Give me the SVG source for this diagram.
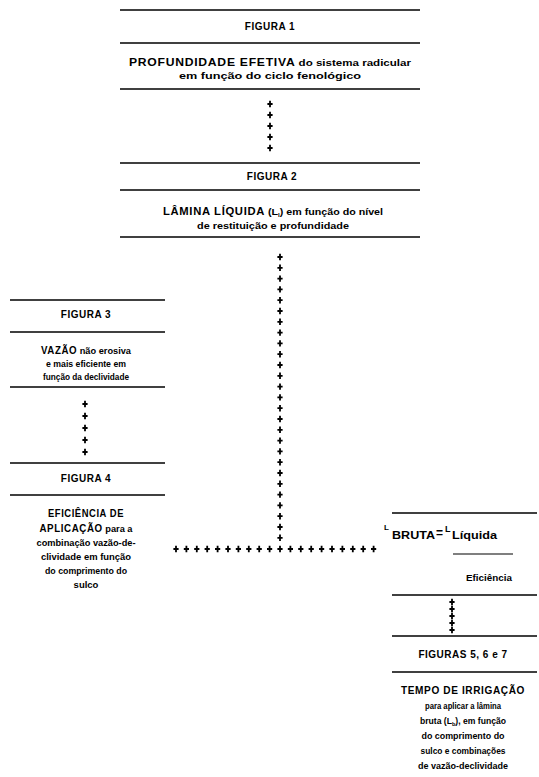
<svg xmlns="http://www.w3.org/2000/svg" xmlns:xlink="http://www.w3.org/1999/xlink" width="539" height="777" viewBox="0 0 539 777">
<style>
text{font-family:"Liberation Sans",Arial,sans-serif;font-weight:bold;fill:#000;text-anchor:middle}
.h{font-size:10px;letter-spacing:0.5px}
.t{font-size:9.5px}
.u{font-size:10px;letter-spacing:0.6px}
.s{font-size:5.5px;baseline-shift:-1.5px}
.r{stroke:#000;stroke-width:1.6;fill:none}
</style>
<defs>
<path id="c" d="M-2.6 0H2.6M0 -3.2V3.2" stroke="#000" stroke-width="1.8"/>
</defs>
<rect width="539" height="777" fill="#fff"/>
<g id="fig1">
<line class="r" x1="120" y1="10" x2="420" y2="10"/>
<text class="h" x="270" y="30">FIGURA 1</text>
<line class="r" x1="120" y1="43" x2="420" y2="43"/>
<text class="t" x="270" y="66" textLength="282" lengthAdjust="spacingAndGlyphs"><tspan class="u">PROFUNDIDADE EFETIVA</tspan> do sistema radicular</text>
<text class="t" x="270" y="79" textLength="182" lengthAdjust="spacingAndGlyphs">em função do ciclo fenológico</text>
<line class="r" x1="120" y1="89" x2="420" y2="89"/>
</g>
<g id="fig2">
<line class="r" x1="120" y1="163" x2="420" y2="163"/>
<text class="h" x="272" y="180">FIGURA 2</text>
<line class="r" x1="120" y1="190" x2="420" y2="190"/>
<text class="t" x="273" y="215" textLength="220" lengthAdjust="spacingAndGlyphs"><tspan class="u">LÂMINA LÍQUIDA</tspan> (L<tspan class="s">l</tspan>) em função do nível</text>
<text class="t" x="273" y="229" textLength="152" lengthAdjust="spacingAndGlyphs">de restituição e profundidade</text>
<line class="r" x1="120" y1="237" x2="420" y2="237"/>
</g>
<g id="fig3">
<line class="r" x1="10" y1="300" x2="165" y2="300"/>
<text class="h" x="86" y="318">FIGURA 3</text>
<line class="r" x1="10" y1="332" x2="165" y2="332"/>
<text class="t" x="86" y="354" textLength="90" lengthAdjust="spacingAndGlyphs"><tspan class="u">VAZÃO</tspan> não erosiva</text>
<text class="t" x="86" y="367" textLength="80" lengthAdjust="spacingAndGlyphs">e mais eficiente em</text>
<text class="t" x="86" y="380" textLength="86" lengthAdjust="spacingAndGlyphs">função da declividade</text>
<line class="r" x1="10" y1="387" x2="165" y2="387"/>
</g>
<g id="fig4">
<line class="r" x1="10" y1="463" x2="165" y2="463"/>
<text class="h" x="86" y="482">FIGURA 4</text>
<line class="r" x1="10" y1="495" x2="165" y2="495"/>
<text class="t" x="86" y="517" textLength="76" lengthAdjust="spacingAndGlyphs"><tspan class="u">EFICIÊNCIA DE</tspan></text>
<text class="t" x="86" y="531.5" textLength="93" lengthAdjust="spacingAndGlyphs"><tspan class="u">APLICAÇÃO</tspan> para a</text>
<text class="t" x="86" y="546" textLength="99" lengthAdjust="spacingAndGlyphs">combinação vazão-de-</text>
<text class="t" x="86" y="560" textLength="90" lengthAdjust="spacingAndGlyphs">clividade em função</text>
<text class="t" x="86" y="574" textLength="82" lengthAdjust="spacingAndGlyphs">do comprimento do</text>
<text class="t" x="86" y="588">sulco</text>
</g>
<g id="formula">
<line class="r" x1="392" y1="513" x2="537" y2="513"/>
<text x="384" y="530" style="text-anchor:start;font-size:8px">L</text>
<text x="392" y="539" style="text-anchor:start;font-size:10px" textLength="43" lengthAdjust="spacingAndGlyphs">BRUTA</text>
<text x="436" y="537" style="text-anchor:start;font-size:12px">=</text>
<text x="445" y="532" style="text-anchor:start;font-size:9px">L</text>
<text x="452" y="539" style="text-anchor:start;font-size:10px" textLength="45" lengthAdjust="spacingAndGlyphs">Líquida</text>
<line stroke="#000" stroke-width="1.2" x1="453" y1="554" x2="513" y2="554"/>
<text class="t" x="489" y="581" textLength="46" lengthAdjust="spacingAndGlyphs">Eficiência</text>
<line class="r" x1="392" y1="595" x2="537" y2="595"/>
</g>
<g id="fig567">
<line class="r" x1="392" y1="636" x2="537" y2="636"/>
<text class="h" x="463" y="658">FIGURAS 5, 6 e 7</text>
<line class="r" x1="392" y1="672" x2="537" y2="672"/>
<text class="t" x="463" y="694" textLength="124" lengthAdjust="spacingAndGlyphs"><tspan class="u">TEMPO DE IRRIGAÇÃO</tspan></text>
<text class="t" x="463" y="709" textLength="76" lengthAdjust="spacingAndGlyphs">para aplicar a lâmina</text>
<text class="t" x="463" y="724" style="font-size:8.6px">bruta (L<tspan class="s">b</tspan>), em função</text>
<text class="t" x="463" y="739" textLength="83" lengthAdjust="spacingAndGlyphs">do comprimento do</text>
<text class="t" x="463" y="754" textLength="85" lengthAdjust="spacingAndGlyphs">sulco e combinações</text>
<text class="t" x="463" y="769" textLength="90" lengthAdjust="spacingAndGlyphs">de vazão-declividade</text>
</g>
<g id="connectors">
<use href="#c" x="270" y="104"/><use href="#c" x="270" y="115"/><use href="#c" x="270" y="126"/><use href="#c" x="270" y="137"/><use href="#c" x="270" y="148"/>
<use href="#c" x="280" y="257"/><use href="#c" x="280" y="267.8"/><use href="#c" x="280" y="278.6"/><use href="#c" x="280" y="289.4"/><use href="#c" x="280" y="300.2"/><use href="#c" x="280" y="311"/><use href="#c" x="280" y="321.8"/><use href="#c" x="280" y="332.6"/><use href="#c" x="280" y="343.4"/><use href="#c" x="280" y="354.2"/><use href="#c" x="280" y="365"/><use href="#c" x="280" y="375.8"/><use href="#c" x="280" y="386.6"/><use href="#c" x="280" y="397.4"/><use href="#c" x="280" y="408.2"/><use href="#c" x="280" y="419"/><use href="#c" x="280" y="429.8"/><use href="#c" x="280" y="440.6"/><use href="#c" x="280" y="451.4"/><use href="#c" x="280" y="462.2"/><use href="#c" x="280" y="473"/><use href="#c" x="280" y="483.8"/><use href="#c" x="280" y="494.6"/><use href="#c" x="280" y="505.4"/><use href="#c" x="280" y="516.2"/><use href="#c" x="280" y="527"/><use href="#c" x="280" y="537.8"/>
<use href="#c" x="176" y="549"/><use href="#c" x="186.4" y="549"/><use href="#c" x="196.8" y="549"/><use href="#c" x="207.2" y="549"/><use href="#c" x="217.6" y="549"/><use href="#c" x="228" y="549"/><use href="#c" x="238.4" y="549"/><use href="#c" x="248.8" y="549"/><use href="#c" x="259.2" y="549"/><use href="#c" x="269.6" y="549"/><use href="#c" x="280" y="549"/><use href="#c" x="290.4" y="549"/><use href="#c" x="300.8" y="549"/><use href="#c" x="311.2" y="549"/><use href="#c" x="321.6" y="549"/><use href="#c" x="332" y="549"/><use href="#c" x="342.4" y="549"/><use href="#c" x="352.8" y="549"/><use href="#c" x="363.2" y="549"/><use href="#c" x="373.6" y="549"/>
<use href="#c" x="85" y="404"/><use href="#c" x="85" y="416"/><use href="#c" x="85" y="428"/><use href="#c" x="85" y="440"/><use href="#c" x="85" y="452"/>
<use href="#c" x="452" y="602"/><use href="#c" x="452" y="609"/><use href="#c" x="452" y="616"/><use href="#c" x="452" y="623"/><use href="#c" x="452" y="630"/>
</g>
</svg>
